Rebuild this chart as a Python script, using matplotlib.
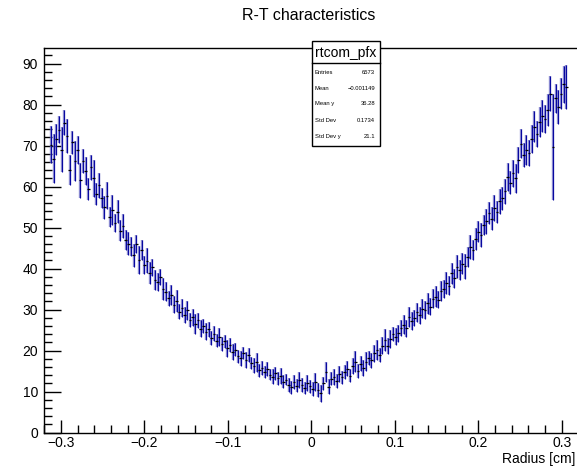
import numpy as np
import matplotlib
matplotlib.use("Agg")
import matplotlib.pyplot as plt
from matplotlib.patches import Rectangle
from matplotlib.lines import Line2D
from matplotlib.ticker import MultipleLocator

plt.rcParams['font.family'] = ['Liberation Sans', 'DejaVu Sans']

# Profile histogram definition (bin range) and filled bins
x_low, x_high, n_bins = -0.32, 0.32, 200
first_bin = 2

mean_t = [
    70.2, 66.8, 71.5, 73.9, 69.0, 75.6, 72.4, 64.1, 70.8, 66.3,
    68.9, 61.5, 66.2, 63.8, 59.4, 64.7, 62.0, 58.1, 60.3, 57.2,
    55.0, 57.8, 52.6, 54.3, 51.1, 53.9, 49.2, 50.4, 47.0, 46.1,
    45.3, 43.2, 46.0, 42.1, 44.5, 40.8, 41.9, 38.9, 40.3, 37.2,
    36.8, 37.9, 35.0, 34.3, 32.7, 33.6, 31.2, 32.0, 29.5, 30.4,
    28.6, 29.8, 27.4, 28.1, 26.5, 27.4, 25.3, 26.0, 24.6, 25.2,
    23.0, 24.1, 22.4, 23.3, 21.6, 22.2, 20.5, 21.4, 19.7, 20.2,
    18.6, 18.1, 19.4, 17.7, 18.9, 17.0, 16.3, 17.1, 15.2, 15.8,
    14.8, 15.4, 14.1, 13.6, 14.5, 13.2, 13.8, 12.4, 12.9, 11.6,
    11.0, 12.3, 11.4, 12.8, 11.7, 10.9, 12.1, 11.3, 10.6, 12.4,
    10.4, 9.6, 12.0, 14.8, 11.2, 13.1, 13.6, 12.5, 14.2, 13.5,
    14.8, 15.6, 13.9, 16.2, 17.3, 15.1, 16.8, 15.7, 17.3, 18.2,
    17.6, 19.3, 20.1, 19.0, 21.2, 22.6, 21.1, 22.8, 24.0, 23.4,
    24.2, 25.5, 26.3, 25.4, 28.2, 27.1, 27.9, 29.3, 28.6, 30.2,
    29.9, 31.5, 30.7, 32.6, 33.1, 32.4, 34.6, 35.0, 36.4, 35.8,
    38.8, 37.6, 40.4, 39.6, 41.2, 40.5, 42.8, 45.3, 44.6, 47.2,
    49.0, 48.1, 50.6, 51.5, 53.5, 52.2, 54.7, 53.8, 56.4, 57.1,
    58.8, 62.4, 60.9, 63.2, 62.0, 66.5, 70.5, 67.7, 68.9, 68.1,
    71.6, 74.6, 72.8, 75.8, 77.2, 76.4, 78.7, 82.7, 69.6, 81.5,
    79.4, 82.7, 84.9, 84.3,
]

err_t = [
    4.5, 6.0, 3.8, 3.2, 5.5, 3.0, 4.1, 3.6, 2.8, 4.9,
    3.5, 4.2, 2.9, 3.3, 2.6, 3.1, 4.5, 2.7, 3.0, 2.4,
    2.8, 3.2, 2.5, 3.6, 2.2, 2.9, 2.6, 3.0, 2.4, 2.7,
    2.3, 2.8, 2.1, 3.4, 2.5, 2.2, 3.1, 2.6, 2.0, 2.4,
    2.2, 1.9, 2.6, 2.3, 1.8, 2.4, 2.0, 2.7, 1.9, 2.2,
    1.9, 2.3, 1.7, 2.0, 2.4, 1.8, 2.1, 1.7, 2.0, 1.8,
    1.7, 1.9, 1.6, 2.2, 1.8, 1.6, 2.0, 1.7, 1.9, 1.6,
    1.6, 1.8, 1.5, 1.9, 1.7, 1.5, 1.8, 2.3, 1.6, 1.7,
    1.5, 1.7, 1.4, 1.8, 1.6, 1.5, 1.9, 1.6, 1.4, 1.7,
    1.5, 1.8, 1.6, 2.0, 1.7, 1.5, 1.9, 1.6, 1.8, 2.2,
    1.7, 2.1, 1.6, 2.4, 1.8, 1.6, 1.9, 1.7, 2.0, 1.6,
    1.7, 1.9, 1.6, 2.0, 2.5, 1.7, 1.8, 1.9, 2.3, 1.8,
    1.8, 2.0, 2.4, 1.7, 2.1, 2.6, 1.9, 2.2, 1.8, 2.0,
    2.1, 1.9, 2.3, 2.0, 2.5, 2.2, 1.9, 2.4, 2.1, 2.3,
    2.2, 2.5, 2.0, 2.3, 2.6, 2.1, 2.4, 2.2, 2.7, 2.3,
    2.5, 2.3, 2.8, 2.4, 2.6, 3.0, 2.5, 2.9, 2.4, 2.7,
    2.6, 2.9, 2.5, 3.1, 2.7, 2.8, 3.2, 2.6, 3.0, 2.9,
    3.0, 3.4, 2.8, 3.3, 3.6, 3.1, 3.5, 2.9, 3.7, 3.2,
    3.3, 3.8, 3.1, 3.6, 4.0, 3.4, 3.9, 4.2, 13.0, 3.5,
    4.1, 3.7, 4.6, 5.3,
]

stats_labels = ["Entries", "Mean", "Mean y", "Std Dev", "Std Dev y"]
stats_values = ["6573", "\u22120.001149", "36.28", "0.1734", "21.1"]
hist_name = "rtcom_pfx"
title = "R-T characteristics"
xlabel = "Radius [cm]"

# bin centres from the histogram definition
bw = (x_high - x_low) / n_bins
idx = np.arange(first_bin, first_bin + len(mean_t))
xc = x_low + bw * (idx + 0.5)
y = np.array(mean_t)
e = np.array(err_t)

W, H = 577, 469
fig = plt.figure(figsize=(W / 100, H / 100), dpi=100)
L, R, B, T = 44.3, 578.5, 432.5, 48.0
ax = fig.add_axes([L / W, 1 - B / H, (R - L) / W, (B - T) / H])
ax.set_xlim(x_low, x_high)
ax.set_ylim(0, 93.8)

# error bars: light wide layer + dark core
ax.vlines(xc, y - e, y + e, colors='#6a6ac4', linewidth=1.7, alpha=0.75, zorder=2)
ax.vlines(xc, y - e, y + e, colors='#0808a0', linewidth=0.8, zorder=3)
ax.hlines(y, xc - bw / 2, xc + bw / 2, colors='black', linewidth=0.9, zorder=4)

ax.xaxis.set_major_locator(MultipleLocator(0.1))
ax.xaxis.set_minor_locator(MultipleLocator(0.02))
ax.yaxis.set_major_locator(MultipleLocator(10))
ax.yaxis.set_minor_locator(MultipleLocator(2))
ax.tick_params(axis='both', which='both', direction='in', top=False, right=False,
               labelsize=10, width=1.0, color='black')
ax.tick_params(axis='x', which='major', length=9.2, pad=2.5)
ax.tick_params(axis='x', which='minor', length=5.5)
ax.tick_params(axis='y', which='major', length=12, pad=4.5)
ax.tick_params(axis='y', which='minor', length=6)
ax.xaxis.set_major_formatter(plt.FuncFormatter(
    lambda v, p: "0" if abs(v) < 1e-9 else ("%g" % v).replace("-", "\u2212")))
for s in ax.spines.values():
    s.set_linewidth(1.0)
ax.spines['right'].set_visible(False)

fig.text(309 / W, 1 - 15 / H, title, ha='center', va='center', fontsize=11.5)
fig.text(575 / W, 1 - 459 / H, xlabel, ha='right', va='center', fontsize=10)

# stats box
bx0, bx1, by0, by1, bsep = 312, 380, 41, 146, 62.7
fig.patches.append(Rectangle((bx0 / W, 1 - by1 / H), (bx1 - bx0) / W, (by1 - by0) / H,
                             transform=fig.transFigure, facecolor='white',
                             edgecolor='black', linewidth=1.0, zorder=10))
fig.lines.append(Line2D([bx0 / W, bx1 / W], [1 - bsep / H, 1 - bsep / H],
                        transform=fig.transFigure, color='black', linewidth=1.0, zorder=11))
fig.text((bx0 + bx1) / 2 / W, 1 - 53 / H, hist_name, ha='center', va='center',
         fontsize=10, zorder=12)
rows = [72.7, 88.3, 103.5, 120.0, 136.5]
for lab, val, ry in zip(stats_labels, stats_values, rows):
    fig.text(315 / W, 1 - ry / H, lab, ha='left', va='center', fontsize=4.2, zorder=12)
    fig.text(375 / W, 1 - ry / H, val, ha='right', va='center', fontsize=4.2, zorder=12)

fig.savefig("out.png", dpi=100)
